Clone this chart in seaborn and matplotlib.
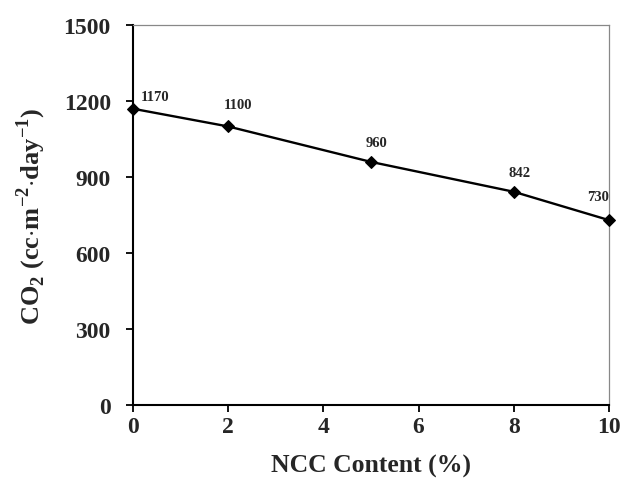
import matplotlib
matplotlib.use("Agg")
import matplotlib.pyplot as plt
import seaborn as sns
import pandas as pd

ncc = [0, 2, 5, 8, 10]
co2 = [1170, 1100, 960, 842, 730]
labels = ["1170", "1100", "960", "842", "730"]
label_offsets = [(16, 9), (7, 16), (4, 14), (4, 14), (-8, 17)]

df = pd.DataFrame({"NCC": ncc, "CO2": co2})

sns.set_style("white")
plt.rcParams['font.family'] = ['Liberation Serif', 'DejaVu Serif']
plt.rcParams['font.weight'] = 'bold'
plt.rcParams['mathtext.fontset'] = 'custom'
plt.rcParams['mathtext.rm'] = 'Liberation Serif:bold'
plt.rcParams['mathtext.bf'] = 'Liberation Serif:bold'

fig = plt.figure(figsize=(6.23, 4.85), dpi=100)
ax = fig.add_axes([0.2135, 0.163, 0.764, 0.783])

sns.lineplot(data=df, x="NCC", y="CO2", ax=ax, color="black", lw=1.7,
             marker="D", markersize=6.5, markeredgecolor="black", zorder=3, clip_on=False)

for x, y, t, (dx, dy) in zip(ncc, co2, labels, label_offsets):
    ax.annotate(t, (x, y), xytext=(dx, dy), textcoords="offset points",
                ha="center", va="center", fontsize=10.5, fontweight="bold")

ax.set_xlim(0, 10)
ax.set_ylim(0, 1500)
ax.set_xticks([0, 2, 4, 6, 8, 10])
ax.set_yticks([0, 300, 600, 900, 1200, 1500])
ax.tick_params(axis="both", labelsize=17, direction="out", length=5, width=1.3, color="black")
ax.tick_params(axis="y", pad=11)
ax.tick_params(axis="x", pad=3)
ax.tick_params(left=True, bottom=True)
for lab in ax.get_xticklabels() + ax.get_yticklabels():
    lab.set_fontweight("bold")

for s in ["left", "bottom"]:
    ax.spines[s].set_color("black")
    ax.spines[s].set_linewidth(1.5)
for s in ["top", "right"]:
    ax.spines[s].set_color("#888888")
    ax.spines[s].set_linewidth(0.9)

ax.set_xlabel("NCC Content (%)", fontsize=18.5, fontweight="bold", labelpad=12)
ax.set_ylabel(r"CO$_2$ (cc$\cdot$m$^{-2}$$\cdot$day$^{-1}$)", fontsize=19, fontweight="bold", labelpad=11)

fig.savefig("out.png", dpi=100)
